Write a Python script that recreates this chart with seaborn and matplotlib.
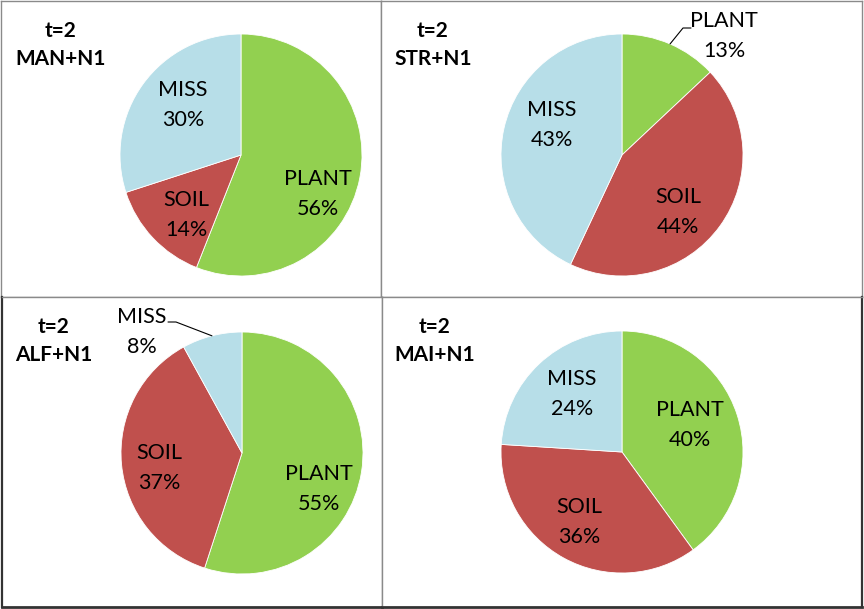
import numpy as np
import matplotlib
matplotlib.use("Agg")
import matplotlib.pyplot as plt
import seaborn as sns

sns.set_theme(style="white")
plt.rcParams["font.family"] = ["Lato", "DejaVu Sans"]

# --- data ---
panels = ["MAN+N1", "STR+N1", "ALF+N1", "MAI+N1"]
categories = ["PLANT", "SOIL", "MISS"]
plant = [56, 13, 55, 40]
soil = [14, 44, 37, 36]
miss = [30, 43, 8, 24]

colors = sns.color_palette(["#92D050", "#C0504D", "#B7DEE8"])

W, H = 864, 609
fig = plt.figure(figsize=(W / 100, H / 100), dpi=100)

# panel boxes in pixels (x0, y0, x1, y1), y from top
boxes = [(1, 1, 381, 297), (381, 1, 862, 297), (2, 297, 382, 607), (382, 297, 862, 607)]
centers = [(241, 155), (622, 155), (242, 453), (622, 452)]
radius = 121
title_pos = [(61, 45), (433, 45), (54, 341), (435, 341)]
# label centres per panel: PLANT, SOIL, MISS
label_pos = [
    [(318, 194), (186, 215), (183, 105)],
    [(724, 36), (678, 212), (552, 125)],
    [(319, 489), (159, 468), (142, 332)],
    [(690, 425), (579, 522), (572, 394)],
]
# leader lines (panel, slice index, knee points)
leaders = {1: (0, [(691, 28), (683, 28)]), 2: (2, [(168, 322), (176, 322)])}


def fy(y):
    return H - y


for i, name in enumerate(panels):
    x0, y0, x1, y1 = boxes[i]
    ax = fig.add_axes([x0 / W, (H - y1) / H, (x1 - x0) / W, (y1 - y0) / H])
    vals = [plant[i], soil[i], miss[i]]
    cx, cy = centers[i]
    ax.pie(vals, colors=colors, startangle=90, counterclock=False,
           center=(cx, fy(cy)), radius=radius,
           wedgeprops=dict(edgecolor="white", linewidth=0.6))
    ax.set_aspect("auto")
    ax.set_xlim(x0, x1)
    ax.set_ylim(fy(y1), fy(y0))
    ax.set_frame_on(True)
    ax.set_xticks([])
    ax.set_yticks([])
    for s in ax.spines.values():
        s.set_color("#8a8a8a")
        s.set_linewidth(1.0)
    if i >= 2:
        ax.spines["bottom"].set_color("#333333")
        ax.spines["bottom"].set_linewidth(2)
        side = "left" if i == 2 else "right"
        ax.spines[side].set_color("#333333")
        ax.spines[side].set_linewidth(1.6)

    tx, ty = title_pos[i]
    ax.text(tx, fy(ty), f"t=2\n{name}", ha="center", va="center",
            fontsize=15, fontweight="bold", linespacing=1.5, color="black")

    for k, cat in enumerate(categories):
        lx, ly = label_pos[i][k]
        ax.text(lx, fy(ly), f"{cat}\n{vals[k]}%", ha="center", va="center",
                fontsize=15.5, linespacing=1.62, color="black")

    if i in leaders:
        k, knee = leaders[i]
        cum = np.cumsum([0] + vals) / sum(vals)
        mid = (cum[k] + cum[k + 1]) / 2
        ang = np.deg2rad(90 - mid * 360)
        px = cx + radius * np.cos(ang)
        py = fy(cy) + radius * np.sin(ang)
        xs = [p[0] for p in knee] + [px]
        ys = [fy(p[1]) for p in knee] + [py]
        ax.plot(xs, ys, color="black", lw=0.8)

fig.savefig("out.png", dpi=100, facecolor="white")
